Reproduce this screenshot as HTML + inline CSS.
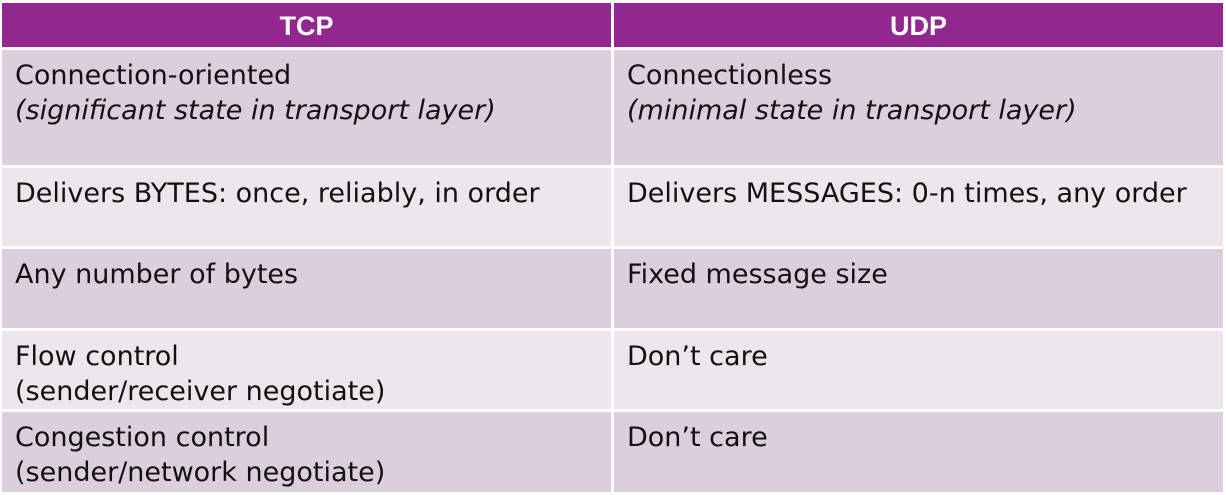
<!DOCTYPE html>
<html><head><meta charset="utf-8"><style>
body{margin:0;width:1226px;height:495px;background:#fff;position:relative;overflow:hidden;font-family:"DejaVu Sans","Liberation Sans",sans-serif;}
.c{position:absolute;box-sizing:border-box;color:#111;font-size:27px;line-height:35px;padding:8px 0 0 13px;white-space:nowrap}
.h{position:absolute;background:#92278f;color:#fff;font-weight:bold;font-size:27px;text-align:center;line-height:46px;font-family:"Liberation Sans",sans-serif}
.a{background:#dccedc}.b{background:#ede6ed}
i{font-style:italic}
</style></head><body>
<div class="h" style="left:2px;top:3px;width:609px;height:44px">TCP</div>
<div class="h" style="left:614px;top:3px;width:609px;height:44px">UDP</div>

<div class="c a" style="left:2px;top:50px;width:609px;height:115px">Connection-oriented<br><i>(significant state in transport layer)</i></div>
<div class="c a" style="left:614px;top:50px;width:609px;height:115px">Connectionless<br><i>(minimal state in transport layer)</i></div>

<div class="c b" style="left:2px;top:168px;width:609px;height:78px">Delivers BYTES: once, reliably, in order</div>
<div class="c b" style="left:614px;top:168px;width:609px;height:78px">Delivers MESSAGES: 0-n times, any order</div>

<div class="c a" style="left:2px;top:249px;width:609px;height:79px">Any number of bytes</div>
<div class="c a" style="left:614px;top:249px;width:609px;height:79px">Fixed message size</div>

<div class="c b" style="left:2px;top:331px;width:609px;height:78px">Flow control<br>(sender/receiver negotiate)</div>
<div class="c b" style="left:614px;top:331px;width:609px;height:78px">Don’t care</div>

<div class="c a" style="left:2px;top:412px;width:609px;height:80px">Congestion control<br>(sender/network negotiate)</div>
<div class="c a" style="left:614px;top:412px;width:609px;height:80px">Don’t care</div>
</body></html>
